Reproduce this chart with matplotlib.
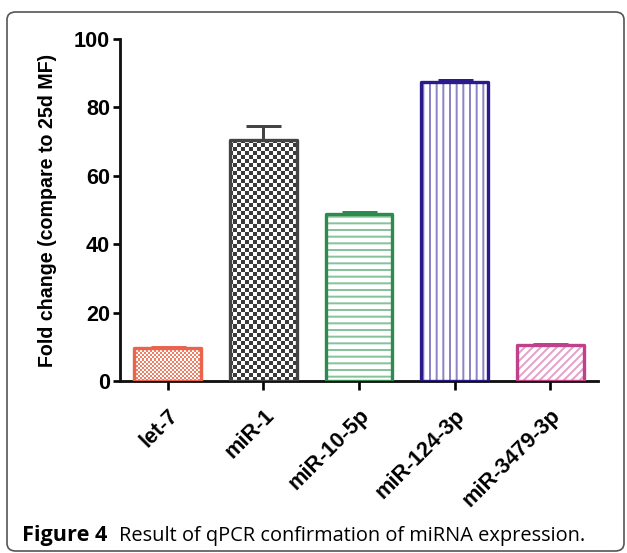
import numpy as np
import matplotlib
matplotlib.use("Agg")
import matplotlib.pyplot as plt
from matplotlib.colors import ListedColormap
from matplotlib.patches import FancyBboxPatch

# qPCR fold changes relative to 25d MF
categories = ["let-7", "miR-1", "miR-10-5p", "miR-124-3p", "miR-3479-3p"]
fold_change = [9.7, 70.5, 48.8, 87.4, 10.5]
sem = [0.3, 4.2, 0.7, 0.6, 0.3]
yticks = [0, 20, 40, 60, 80, 100]

edge_colors = ["#E8644C", "#444444", "#2E8B50", "#2B1B8A", "#C0408A"]
fill_colors = ["#EE8068", "#3A3A3A", "#86C39A", "#8C84C4", "#E3A3CA"]
# texture per bar: ("checker", cell_px) or ("hatch", pattern)
textures = [("checker", 2), ("checker", 4), ("hatch", "---"), ("hatch", "|||"), ("hatch", "/////")]

DPI = 120
plt.rcParams["font.family"] = ["Liberation Sans", "DejaVu Sans"]
plt.rcParams["hatch.linewidth"] = 1.2

fig = plt.figure(figsize=(627 / DPI, 553 / DPI), dpi=DPI)
fig.patch.set_facecolor("white")

# framed panel
frame = FancyBboxPatch((7 / 627, 1 - 551 / 553), 617 / 627, 539 / 553,
                       boxstyle="round,pad=0,rounding_size=0.014",
                       transform=fig.transFigure, facecolor="none",
                       edgecolor="#555555", linewidth=1.0, zorder=5)
fig.patches.append(frame)

ax = fig.add_axes([120 / 627, 1 - 381 / 553, 478 / 627, 342 / 553])
ax.set_facecolor("none")

x = np.arange(len(categories))
width = 0.70

bg = ax.bar(x, fold_change, width=width, color="white", linewidth=0, zorder=1)

ax_w_px = 478
ax_h_px = 342
for i, (kind, spec) in enumerate(textures):
    rect = bg.patches[i]
    if kind == "checker":
        nx = ax_w_px // spec
        ny = ax_h_px // spec
        arr = (np.add.outer(np.arange(ny), np.arange(nx)) % 2).astype(float)
        cmap = ListedColormap(["white", fill_colors[i]])
        im = ax.imshow(arr, extent=(0, 1, 0, 1), transform=ax.transAxes,
                       cmap=cmap, interpolation="nearest", aspect="auto",
                       origin="lower", zorder=1.5)
        im.set_clip_path(rect)
    else:
        ax.bar(x[i], fold_change[i], width=width, facecolor="white",
               edgecolor=fill_colors[i], hatch=spec, linewidth=0, zorder=1.5)

# bar outlines
ax.bar(x, fold_change, width=width, fill=False, edgecolor=edge_colors,
       linewidth=2.0, zorder=3, joinstyle="round")

# upper error bars only
for i in range(len(categories)):
    ax.errorbar(x[i], fold_change[i], yerr=[[0], [sem[i]]], fmt="none",
                ecolor=edge_colors[i], elinewidth=1.8, capsize=10.5,
                capthick=1.8, zorder=4)

ax.set_xlim(-0.5, len(categories) - 0.5)
ax.set_ylim(0, 100)
ax.set_yticks(yticks)
ax.set_xticks(x)
ax.set_xticklabels(categories, rotation=45, ha="right", va="top",
                   rotation_mode="anchor", fontsize=13, fontweight="bold")
for lab in ax.get_yticklabels():
    lab.set_fontweight("bold")
ax.tick_params(axis="y", labelsize=13, length=4, width=1.6, pad=2)
ax.tick_params(axis="x", length=5.5, width=1.6, pad=9)

for s in ["top", "right"]:
    ax.spines[s].set_visible(False)
for s in ["left", "bottom"]:
    ax.spines[s].set_linewidth(1.7)
    ax.spines[s].set_color("#111111")

ax.set_ylabel("Fold change (compare to 25d MF)", fontsize=11.8,
              fontweight="bold", labelpad=10)

# caption
cap_font = ["Open Sans", "DejaVu Sans"]
t1 = fig.text(22 / 627, 1 - 536 / 553, "Figure 4", fontsize=13, fontweight="bold",
              family=cap_font, va="center", ha="left")
t2 = fig.text(119 / 627, 1 - 536 / 553, "Result of qPCR confirmation of miRNA expression.",
              fontsize=12, family=cap_font, va="center", ha="left")

fig.savefig("out.png", dpi=DPI, facecolor="white")
